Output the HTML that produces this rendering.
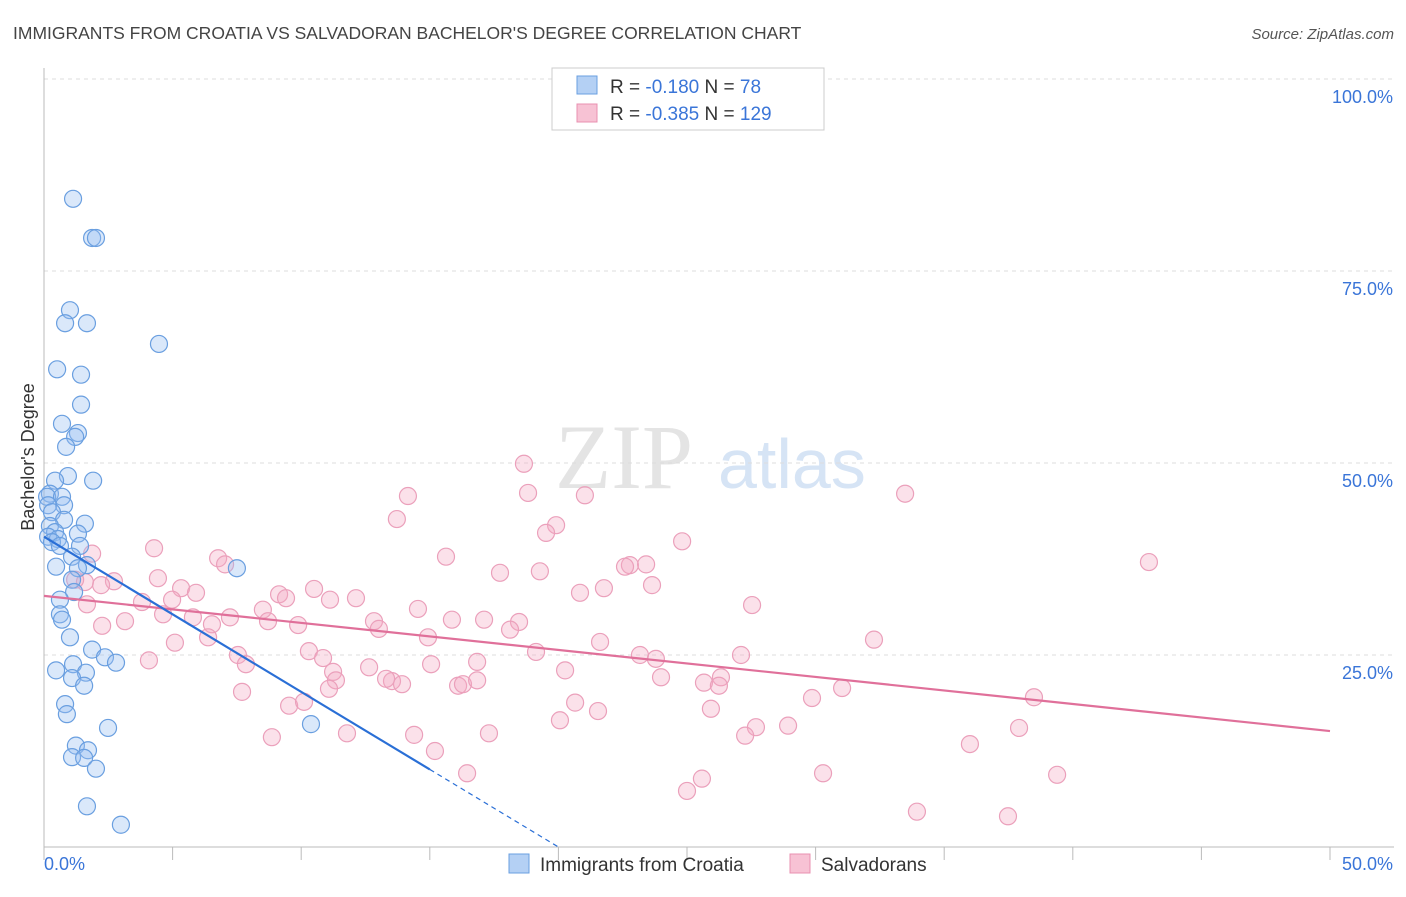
<!DOCTYPE html>
<html><head><meta charset="utf-8">
<style>
html,body{margin:0;padding:0;background:#fff;}
body{width:1406px;height:892px;overflow:hidden;font-family:"Liberation Sans",sans-serif;}
</style></head>
<body>
<svg id="chart" width="1406" height="892" xmlns="http://www.w3.org/2000/svg" font-family="Liberation Sans, sans-serif">
<text x="13" y="39" font-size="17.5" fill="#444">IMMIGRANTS FROM CROATIA VS SALVADORAN BACHELOR'S DEGREE CORRELATION CHART</text>
<text x="1394" y="39" font-size="15" fill="#555" font-style="italic" text-anchor="end">Source: ZipAtlas.com</text>
<g>
<text x="555" y="488" font-size="92" fill="#e4e4e4" font-family="Liberation Serif, serif">ZIP</text>
<text x="718" y="488" font-size="70" fill="#d6e4f5">atlas</text>
</g>
<g id="grid"></g>
<g id="axes"></g>
<text transform="translate(34,457) rotate(-90)" font-size="18" fill="#333" text-anchor="middle">Bachelor's Degree</text>
<g id="points"></g>
<g id="trends"></g>
<g>
<rect x="552" y="68" width="272" height="62" fill="#fff" stroke="#ccc"/>
<rect x="577" y="76" width="20" height="18" fill="#b4d0f4" stroke="#6a9fe0"/>
<rect x="577" y="104" width="20" height="18" fill="#f7c2d4" stroke="#e890b0"/>
<text x="610" y="93" font-size="19" fill="#333">R = <tspan fill="#3a75d8">-0.180</tspan>   N = <tspan fill="#3a75d8"> 78</tspan></text>
<text x="610" y="120" font-size="19" fill="#333">R = <tspan fill="#3a75d8">-0.385</tspan>   N = <tspan fill="#3a75d8">129</tspan></text>
</g>
<g>
<rect x="509" y="854" width="20" height="19" fill="#b4d0f4" stroke="#6a9fe0"/>
<text x="540" y="871" font-size="19" fill="#333">Immigrants from Croatia</text>
<rect x="790" y="854" width="20" height="19" fill="#f7c2d4" stroke="#e890b0"/>
<text x="821" y="871" font-size="19" fill="#333">Salvadorans</text>
</g>
</svg>
<script>
const yTicks=[25,50,75,100];
const yTickLabels=["25.0%","50.0%","75.0%","100.0%"];
const xTicks=[0,5,10,15,20,25,30,35,40,45,50];
const croatiaX=[1.13,1.87,2.02,1.01,0.82,1.67,4.47,0.51,1.44,1.44,0.70,1.32,1.21,0.86,0.93,1.91,0.43,0.23,0.12,0.70,0.78,0.16,0.31,0.78,1.59,0.23,0.43,1.32,0.16,0.54,0.31,0.62,1.40,1.09,1.67,0.47,7.50,1.32,1.09,1.17,0.62,0.62,0.70,1.01,1.87,2.37,2.80,1.13,0.47,1.63,1.09,1.56,0.82,0.89,2.49,10.38,1.24,1.71,1.09,1.56,2.02,1.67,2.99];
const croatiaY=[84.4,79.3,79.3,69.9,68.2,68.2,65.5,62.2,61.5,57.6,55.1,53.9,53.4,52.1,48.3,47.7,47.7,46.0,45.6,45.6,44.5,44.5,43.6,42.6,42.1,41.8,41.0,40.8,40.4,40.1,39.7,39.2,39.2,37.8,36.7,36.5,36.3,36.3,34.8,33.2,32.2,30.3,29.6,27.3,25.7,24.7,24.0,23.8,23.0,22.7,22.0,21.0,18.6,17.3,15.5,16.0,13.2,12.6,11.7,11.6,10.2,5.3,2.9];
const salvX=[18.66,18.82,14.15,21.03,33.48,19.91,13.72,19.52,24.81,4.28,15.63,1.87,6.77,7.04,22.78,23.41,22.59,42.96,17.73,19.28,4.43,2.72,1.59,1.21,2.22,5.33,21.77,23.64,20.84,5.91,9.14,10.50,12.13,11.12,9.41,4.98,3.81,27.53,1.67,14.54,8.51,4.63,5.79,3.15,7.23,8.71,9.88,12.83,15.86,17.11,18.47,13.02,2.26,6.53,18.12,5.09,6.38,21.62,14.93,32.27,10.30,7.54,10.85,19.13,23.17,23.79,27.10,7.85,11.24,12.64,15.05,16.84,4.08,20.26,23.99,26.32,25.66,26.24,13.53,13.92,13.30,11.35,16.10,16.29,16.84,31.03,29.86,38.49,7.70,11.08,9.53,10.11,20.65,21.54,25.93,20.06,11.78,27.68,28.93,27.26,37.91,8.86,14.39,17.30,15.20,36.00,16.45,30.29,39.39,25.58,25.00,33.94,37.48];
const salvY=[49.9,46.1,45.7,45.8,46.0,41.9,42.7,40.9,39.8,38.9,37.8,38.2,37.6,36.8,36.7,36.8,36.5,37.1,35.7,35.9,35.0,34.6,34.5,34.8,34.1,33.7,33.7,34.1,33.1,33.1,32.9,33.6,32.4,32.2,32.4,32.2,31.9,31.5,31.6,31.0,30.9,30.3,29.9,29.4,29.9,29.4,28.9,29.4,29.6,29.6,29.3,28.4,28.8,29.0,28.3,26.6,27.3,26.7,27.3,27.0,25.5,25.0,24.6,25.4,25.0,24.5,25.0,23.8,22.8,23.4,23.8,24.1,24.3,23.0,22.1,22.1,21.4,21.0,21.6,21.2,21.9,21.7,21.0,21.2,21.7,20.7,19.4,19.5,20.2,20.6,18.4,18.9,18.8,17.7,18.0,16.5,14.8,15.6,15.8,14.5,15.5,14.3,14.6,14.8,12.5,13.4,9.6,9.6,9.4,8.9,7.3,4.6,4.0];
const croatiaTrend=[40.4,-2.02]; // intercept, slope
const salvTrend=[32.7,-0.352];
const croatiaTrendEnd=15.0, croatiaDashEnd=20.0;

const NS="http://www.w3.org/2000/svg";
const X0=44,X1=1330,Y0=847,Y100=79;
const sx=v=>X0+(X1-X0)*v/50;
const sy=v=>Y0-(Y0-Y100)*v/100;
function mk(t,a,p){const e=document.createElementNS(NS,t);for(const k in a)e.setAttribute(k,a[k]);p.appendChild(e);return e;}
const grid=document.getElementById('grid'),axes=document.getElementById('axes'),pts=document.getElementById('points'),tr=document.getElementById('trends');
yTicks.forEach((v,i)=>{
 const l=mk('line',{x1:X0,x2:1394,y1:sy(v),y2:sy(v),stroke:'#ddd','stroke-dasharray':'4,4'},grid);
 
 
 const t=mk('text',{x:1393,y:sy(v)+24,'font-size':18,fill:'#3a75d8','text-anchor':'end'},axes);
 t.textContent=yTickLabels[i];
 
 
});
mk('line',{x1:X0,x2:X0,y1:68,y2:Y0,stroke:'#bbb'},axes);
mk('line',{x1:X0,x2:1394,y1:Y0,y2:Y0,stroke:'#bbb'},axes);
xTicks.forEach(v=>{
 const l=mk('line',{x1:sx(v),x2:sx(v),y1:Y0,y2:Y0+13,stroke:'#bbb'},axes);
 
 
});
const xl0=mk('text',{x:44,y:870,'font-size':18,fill:'#3a75d8'},axes);xl0.textContent='0.0%';


const xl1=mk('text',{x:1393,y:870,'font-size':18,fill:'#3a75d8','text-anchor':'end'},axes);xl1.textContent='50.0%';


salvX.forEach((x,i)=>{
 const c=mk('circle',{cx:sx(x),cy:sy(salvY[i]),r:8.5,fill:'rgba(244,170,196,0.35)',stroke:'#eba0bb','stroke-width':1.2},pts);
 
 
});
croatiaX.forEach((x,i)=>{
 const c=mk('circle',{cx:sx(x),cy:sy(croatiaY[i]),r:8.5,fill:'rgba(150,190,240,0.35)',stroke:'#6a9fe0','stroke-width':1.2},pts);
 
 
});
const f=(t,x)=>t[0]+t[1]*x;
const pl=mk('line',{x1:sx(0),y1:sy(f(salvTrend,0)),x2:sx(50),y2:sy(f(salvTrend,50)),stroke:'#e0709a','stroke-width':2.2},tr);


const bl=mk('line',{x1:sx(0),y1:sy(f(croatiaTrend,0)),x2:sx(croatiaTrendEnd),y2:sy(f(croatiaTrend,croatiaTrendEnd)),stroke:'#2a6fd6','stroke-width':2.2},tr);


const bd=mk('line',{x1:sx(croatiaTrendEnd),y1:sy(f(croatiaTrend,croatiaTrendEnd)),x2:sx(croatiaDashEnd),y2:sy(Math.max(0,f(croatiaTrend,croatiaDashEnd))),stroke:'#2a6fd6','stroke-width':1.2,'stroke-dasharray':'5,4'},tr);


</script>
</body></html>
